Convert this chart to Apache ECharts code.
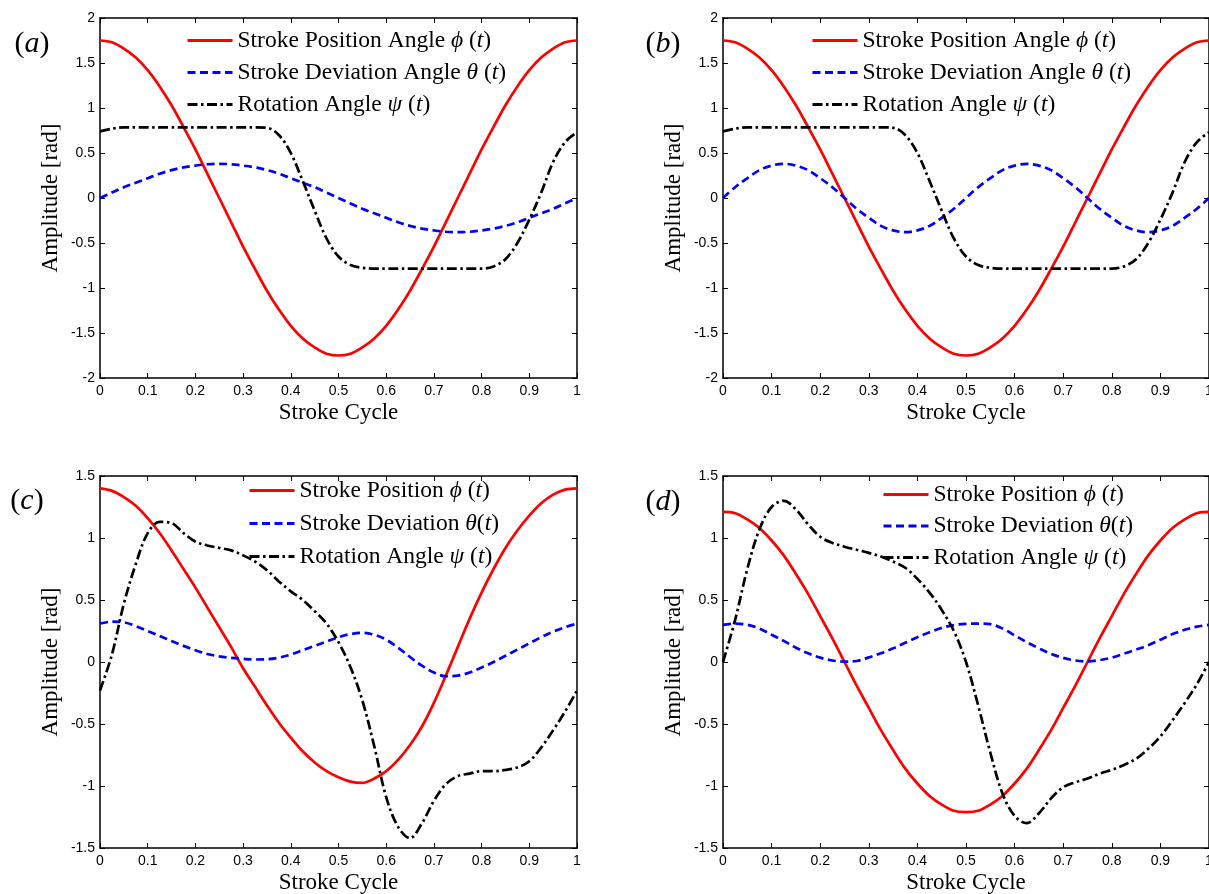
<!DOCTYPE html>
<html>
<head>
<meta charset="utf-8">
<script src="https://cdn.jsdelivr.net/npm/echarts@6/dist/echarts.min.js"></script>
<style>html,body{margin:0;padding:0;background:#fff;}#c{width:1209px;height:894px;}</style>
</head>
<body>
<div id="c"></div>
<script>
// ---- data ----
const t = [0, 0.025, 0.05, 0.075, 0.1, 0.125, 0.15, 0.175, 0.2, 0.225, 0.25, 0.275, 0.3, 0.325, 0.35, 0.375, 0.4, 0.425, 0.45, 0.475, 0.5, 0.525, 0.55, 0.575, 0.6, 0.625, 0.65, 0.675, 0.7, 0.725, 0.75, 0.775, 0.8, 0.825, 0.85, 0.875, 0.9, 0.925, 0.95, 0.975, 1];

const xTicksLabels = ['0', '0.1', '0.2', '0.3', '0.4', '0.5', '0.6', '0.7', '0.8', '0.9', '1'];

// panels (a) and (b)
const phiAB = [1.75, 1.73, 1.66, 1.56, 1.42, 1.24, 1.03, 0.79, 0.54, 0.27, 0.00, -0.27, -0.54, -0.79, -1.03, -1.24, -1.42, -1.56, -1.66, -1.73, -1.75, -1.73, -1.66, -1.56, -1.42, -1.24, -1.03, -0.79, -0.54, -0.27, 0.00, 0.27, 0.54, 0.79, 1.03, 1.24, 1.42, 1.56, 1.66, 1.73, 1.75];
const thetaA = [0, 0.06, 0.12, 0.17, 0.22, 0.27, 0.31, 0.34, 0.36, 0.375, 0.38, 0.375, 0.36, 0.34, 0.31, 0.27, 0.22, 0.17, 0.12, 0.06, 0, -0.06, -0.12, -0.17, -0.22, -0.27, -0.31, -0.34, -0.36, -0.375, -0.38, -0.375, -0.36, -0.34, -0.31, -0.27, -0.22, -0.17, -0.12, -0.06, 0];
const thetaB = [0, 0.12, 0.22, 0.31, 0.36, 0.38, 0.36, 0.31, 0.22, 0.12, 0, -0.12, -0.22, -0.31, -0.36, -0.38, -0.36, -0.31, -0.22, -0.12, 0, 0.12, 0.22, 0.31, 0.36, 0.38, 0.36, 0.31, 0.22, 0.12, 0, -0.12, -0.22, -0.31, -0.36, -0.38, -0.36, -0.31, -0.22, -0.12, 0];
const psiAB = [0.74, 0.77, 0.785, 0.785, 0.785, 0.785, 0.785, 0.785, 0.785, 0.785, 0.785, 0.785, 0.785, 0.785, 0.78, 0.70, 0.50, 0.19, -0.14, -0.45, -0.65, -0.745, -0.775, -0.785, -0.785, -0.785, -0.785, -0.785, -0.785, -0.785, -0.785, -0.785, -0.785, -0.76, -0.68, -0.50, -0.24, 0.06, 0.40, 0.62, 0.73];

// panel (c)
const phiC = [1.40, 1.38, 1.33, 1.26, 1.16, 1.04, 0.90, 0.75, 0.60, 0.44, 0.28, 0.12, -0.05, -0.20, -0.35, -0.49, -0.61, -0.72, -0.81, -0.88, -0.93, -0.965, -0.975, -0.94, -0.88, -0.79, -0.67, -0.52, -0.33, -0.11, 0.12, 0.35, 0.56, 0.75, 0.92, 1.06, 1.18, 1.28, 1.35, 1.39, 1.40];
const thetaC = [0.31, 0.325, 0.32, 0.29, 0.25, 0.21, 0.17, 0.13, 0.095, 0.065, 0.045, 0.033, 0.025, 0.02, 0.022, 0.035, 0.06, 0.095, 0.13, 0.165, 0.20, 0.225, 0.235, 0.22, 0.18, 0.115, 0.04, -0.03, -0.085, -0.115, -0.11, -0.085, -0.045, 0.0, 0.05, 0.10, 0.15, 0.20, 0.245, 0.28, 0.31];
const psiC = [-0.23, 0.06, 0.47, 0.79, 1.04, 1.13, 1.12, 1.04, 0.97, 0.94, 0.92, 0.90, 0.86, 0.81, 0.74, 0.65, 0.57, 0.50, 0.41, 0.31, 0.16, -0.04, -0.31, -0.68, -1.09, -1.33, -1.42, -1.30, -1.12, -0.985, -0.92, -0.90, -0.88, -0.88, -0.87, -0.85, -0.80, -0.69, -0.55, -0.40, -0.23];

// panel (d)
const phiD = [1.21, 1.20, 1.15, 1.08, 0.98, 0.86, 0.71, 0.55, 0.37, 0.19, 0.00, -0.19, -0.37, -0.55, -0.71, -0.86, -0.98, -1.08, -1.15, -1.20, -1.21, -1.20, -1.15, -1.08, -0.98, -0.86, -0.71, -0.55, -0.37, -0.19, 0.00, 0.19, 0.37, 0.55, 0.71, 0.86, 0.98, 1.08, 1.15, 1.20, 1.21];
const thetaD = [0.30, 0.31, 0.30, 0.27, 0.22, 0.17, 0.115, 0.07, 0.035, 0.012, 0.003, 0.008, 0.037, 0.07, 0.11, 0.155, 0.20, 0.24, 0.275, 0.298, 0.308, 0.31, 0.305, 0.27, 0.215, 0.16, 0.11, 0.065, 0.033, 0.012, 0.005, 0.015, 0.035, 0.067, 0.10, 0.135, 0.18, 0.225, 0.26, 0.285, 0.30];
const psiD = [0.0, 0.34, 0.75, 1.07, 1.25, 1.30, 1.23, 1.11, 1.01, 0.96, 0.93, 0.905, 0.88, 0.85, 0.81, 0.76, 0.67, 0.56, 0.42, 0.25, 0.0, -0.35, -0.73, -1.06, -1.24, -1.30, -1.22, -1.10, -1.01, -0.97, -0.94, -0.90, -0.87, -0.83, -0.78, -0.70, -0.60, -0.47, -0.33, -0.18, 0.0];

const yTicksAB = [-2, -1.5, -1, -0.5, 0, 0.5, 1, 1.5, 2];
const yTicksCD = [-1.5, -1, -0.5, 0, 0.5, 1, 1.5];

const legendAB = ['Stroke Position Angle {i|ϕ} ({i|t})', 'Stroke Deviation Angle {i|θ} ({i|t})', 'Rotation Angle {i|ψ} ({i|t})'];
const legendCD = ['Stroke Position {i|ϕ} ({i|t})', 'Stroke Deviation {i|θ}({i|t})', 'Rotation Angle {i|ψ} ({i|t})'];
const panelTags = ['a', 'b', 'c', 'd'];
const xTitle = 'Stroke Cycle';
const yTitle = 'Amplitude [rad]';

// ---- layout (styles / positions) ----
const SERIF = '"Liberation Serif", "Times New Roman", "DejaVu Serif", serif';
const SANS = '"Liberation Sans", Arial, Helvetica, sans-serif';
const LFS = 23.5;
const panels = [
  {grid: {left: 100, top: 18, width: 477, height: 360}, yt: yTicksAB, series: [phiAB, thetaA, psiAB], labels: legendAB, legend: {left: 186, top: 28.5, gap: 8}, tag: {x: 32, y: 44}},
  {grid: {left: 723, top: 18, width: 486, height: 360}, yt: yTicksAB, series: [phiAB, thetaB, psiAB], labels: legendAB, legend: {left: 811, top: 28.5, gap: 8}, tag: {x: 663, y: 44}},
  {grid: {left: 100, top: 476, width: 477, height: 372}, yt: yTicksCD, series: [phiC, thetaC, psiC], labels: legendCD, legend: {left: 248, top: 478.5, gap: 9}, tag: {x: 27, y: 501}},
  {grid: {left: 723, top: 476, width: 486, height: 372}, yt: yTicksCD, series: [phiD, thetaD, psiD], labels: legendCD, legend: {left: 882, top: 482.5, gap: 7.5}, tag: {x: 663, y: 502}}
];
const styles = [
  {color: '#ff0000', type: 'solid'},
  {color: '#0000ff', type: [8, 4.5]},
  {color: '#000000', type: [10, 3.5, 2.5, 3.5]}
];
const kinds = ['phi', 'theta', 'psi'];

const grid = [], xAxis = [], yAxis = [], series = [], legend = [], graphic = [];
const labelMap = {};
const axisLine = {show: true, onZero: false, lineStyle: {color: '#000', width: 1.5}};
const axisTick = {show: true, inside: true, length: 5, lineStyle: {color: '#000', width: 1}};

panels.forEach((p, i) => {
  grid.push(Object.assign({containLabel: false, outerBoundsMode: 'none'}, p.grid));
  const xmin = Number(xTicksLabels[0]), xmax = Number(xTicksLabels[xTicksLabels.length - 1]);
  const ymin = p.yt[0], ymax = p.yt[p.yt.length - 1];
  xAxis.push({
    type: 'value', gridIndex: i, position: 'bottom', min: xmin, max: xmax, interval: 0.1,
    axisLine, axisTick, splitLine: {show: false},
    axisLabel: {color: '#000', fontFamily: SANS, fontSize: 14, margin: 6, formatter: v => String(Math.round(v * 10) / 10)},
    name: xTitle, nameLocation: 'middle', nameGap: 23,
    nameTextStyle: {color: '#000', fontFamily: SERIF, fontSize: 23}
  });
  xAxis.push({
    type: 'value', gridIndex: i, position: 'top', min: xmin, max: xmax, interval: 0.1,
    axisLine, axisTick, splitLine: {show: false}, axisLabel: {show: false}
  });
  yAxis.push({
    type: 'value', gridIndex: i, position: 'left', min: ymin, max: ymax, interval: 0.5,
    axisLine, axisTick, splitLine: {show: false},
    axisLabel: {color: '#000', fontFamily: SANS, fontSize: 14, margin: 5},
    name: yTitle, nameLocation: 'middle', nameGap: 38,
    nameTextStyle: {color: '#000', fontFamily: SERIF, fontSize: 23}
  });
  yAxis.push({
    type: 'value', gridIndex: i, position: 'right', min: ymin, max: ymax, interval: 0.5,
    axisLine, axisTick, splitLine: {show: false}, axisLabel: {show: false}
  });
  const names = [];
  p.series.forEach((vals, k) => {
    const name = kinds[k] + '_' + panelTags[i];
    names.push(name);
    labelMap[name] = p.labels[k];
    series.push({
      type: 'line', name, xAxisIndex: 2 * i, yAxisIndex: 2 * i,
      data: t.map((x, j) => [x, vals[j]]),
      symbol: 'none', showSymbol: false, smooth: 0.35,
      lineStyle: {color: styles[k].color, width: 2.7, type: styles[k].type},
      itemStyle: {color: styles[k].color},
      z: 2 + k, silent: true
    });
  });
  legend.push({
    data: names, orient: 'vertical', left: p.legend.left, top: p.legend.top, padding: 0,
    itemWidth: 45, itemHeight: 14, itemGap: p.legend.gap, selectedMode: false,
    itemStyle: {opacity: 0},
    lineStyle: {width: 3},
    formatter: n => labelMap[n],
    textStyle: {color: '#000', fontFamily: SERIF, fontSize: LFS, lineHeight: 24,
      rich: {i: {fontFamily: SERIF, fontStyle: 'italic', fontSize: LFS, color: '#000', lineHeight: 24}}}
  });
  graphic.push({
    type: 'text', x: p.tag.x, y: p.tag.y, silent: true,
    style: {
      text: '({i|' + panelTags[i] + '})', fill: '#000', font: '30px ' + SERIF,
      align: 'center', verticalAlign: 'middle', textAlign: 'center', textVerticalAlign: 'middle',
      rich: {i: {fontFamily: SERIF, fontStyle: 'italic', fontSize: 30, fill: '#000', color: '#000'}}
    }
  });
});

const chart = echarts.init(document.getElementById('c'), null, {renderer: 'canvas'});
chart.setOption({
  animation: false, backgroundColor: '#fff',
  grid, xAxis, yAxis, series, legend, graphic,
  tooltip: {show: false}
});
</script>
</body>
</html>
